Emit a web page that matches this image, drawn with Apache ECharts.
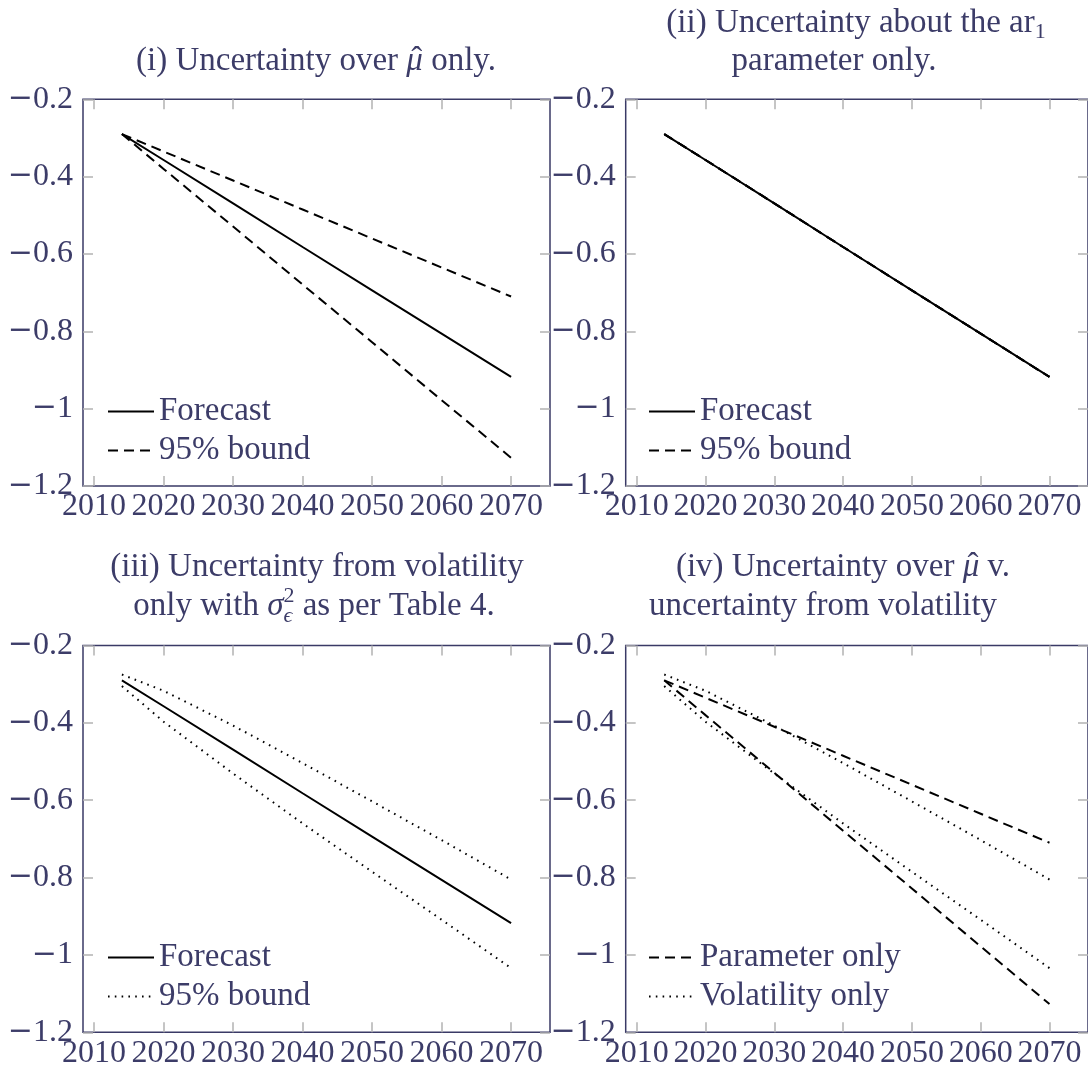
<!DOCTYPE html>
<html><head><meta charset="utf-8">
<script src="https://cdn.jsdelivr.net/npm/echarts@6/dist/echarts.min.js"></script>
<style>html,body{margin:0;padding:0;background:#fff;}#c{width:1088px;height:1071px;}</style>
</head><body><div id="c"></div>
<script>
// ---- data ----
const years      = [2014, 2020, 2030, 2040, 2050, 2060, 2070];
const forecast   = [-0.290, -0.357, -0.469, -0.582, -0.694, -0.806, -0.918];
const paramUpper = [-0.290, -0.335, -0.410, -0.485, -0.560, -0.635, -0.710];
const paramLower = [-0.290, -0.380, -0.529, -0.679, -0.828, -0.978, -1.127];
const volUpper   = [-0.275, -0.317, -0.407, -0.504, -0.603, -0.703, -0.805];
const volLower   = [-0.305, -0.397, -0.531, -0.660, -0.785, -0.909, -1.034];
const xTicks     = [2010, 2020, 2030, 2040, 2050, 2060, 2070];
const yTicks     = [-1.2, -1, -0.8, -0.6, -0.4, -0.2];

const FONT = '"Liberation Serif", "DejaVu Serif", serif';
const TXT = '#3c3c68';
const BORDER = '#3a3a66';
const TICK = '#b2b2b2';
const FS = 33;      // titles, legend
const FL = 32;      // tick labels

const grids = [
  {left: 83,    top: 99.3,  width: 467, height: 386.7},
  {left: 625.7, top: 99.3,  width: 467, height: 386.7},
  {left: 83,    top: 645.5, width: 467, height: 386.8},
  {left: 625.7, top: 645.5, width: 467, height: 386.8}
];

const pts = arr => years.map((y, k) => [y, arr[k]]);
const fmtY = v => { const r = Math.round(v * 10) / 10; return (r < 0 ? '{mn|\u2212}' : '') + String(Math.abs(r)); };

const xAxis = [], yAxis = [];
grids.forEach((g, i) => {
  const tickCommon = {inside: true, length: 10, customValues: xTicks, lineStyle: {color: TICK, width: 1.5}};
  xAxis.push({type: 'value', gridIndex: i, position: 'bottom', min: 2008.4, max: 2075.6,
    axisLine: {show: false}, splitLine: {show: false},
    axisTick: tickCommon,
    axisLabel: {customValues: xTicks, formatter: v => String(v), color: TXT, fontFamily: FONT, fontSize: FL, margin: 5}});
  xAxis.push({type: 'value', gridIndex: i, position: 'top', min: 2008.4, max: 2075.6,
    axisLine: {show: false}, splitLine: {show: false},
    axisTick: tickCommon, axisLabel: {show: false}});
  const yTick = {inside: true, length: 10, customValues: yTicks, lineStyle: {color: TICK, width: 1.5}};
  yAxis.push({type: 'value', gridIndex: i, position: 'left', min: -1.2, max: -0.2,
    axisLine: {show: false}, splitLine: {show: false},
    axisTick: yTick,
    axisLabel: {customValues: yTicks, formatter: fmtY, color: TXT, fontFamily: FONT, fontSize: FL, margin: 10,
      rich: {mn: {fontFamily: '"DejaVu Serif", serif', fontSize: 30, color: TXT}}}});
  yAxis.push({type: 'value', gridIndex: i, position: 'right', min: -1.2, max: -0.2,
    axisLine: {show: false}, splitLine: {show: false},
    axisTick: yTick, axisLabel: {show: false}});
});

const SOLID = {color: '#000', width: 2, type: 'solid'};
const DASH  = {color: '#000', width: 2, type: [10, 6]};
const DOT   = {color: '#000', width: 2, type: [1.6, 5.2]};

function line(name, i, arr, style, z) {
  return {type: 'line', name: name, xAxisIndex: 2 * i, yAxisIndex: 2 * i, data: pts(arr),
    symbol: 'none', showSymbol: false, lineStyle: style, itemStyle: {color: '#000'},
    silent: true, animation: false, z: z || 2};
}

const series = [
  line('Forecast#1', 0, forecast, SOLID, 3),
  line('95% bound#1', 0, paramUpper, DASH),
  line('95% bound#1', 0, paramLower, DASH),
  // panel ii: the bounds coincide with the forecast
  line('95% bound#2', 1, forecast, DASH),
  line('95% bound#2', 1, forecast, DASH),
  line('Forecast#2', 1, forecast, SOLID, 3),
  line('Forecast#3', 2, forecast, SOLID, 3),
  line('95% bound#3', 2, volUpper, DOT),
  line('95% bound#3', 2, volLower, DOT),
  line('Parameter only#4', 3, paramUpper, DASH),
  line('Parameter only#4', 3, paramLower, DASH),
  line('Volatility only#4', 3, volUpper, DOT),
  line('Volatility only#4', 3, volLower, DOT)
];

function legend(names, left, top) {
  return {data: names, left: left, top: top, orient: 'vertical', padding: 0,
    itemWidth: 46, itemHeight: 2, itemGap: 6, selectedMode: false,
    itemStyle: {opacity: 0},
    formatter: n => n.split('#')[0],
    textStyle: {color: TXT, fontFamily: FONT, fontSize: FS}};
}

// ---- titles: text runs laid out with measured widths ----
const ctx = document.createElement('canvas').getContext('2d');
const F = (size, it) => (it ? 'italic ' : '') + size + 'px ' + FONT;
const tw = (t, font) => { ctx.font = font; return ctx.measureText(t).width; };
function compose(parts, cx, cy) {
  const els = [];
  const widths = parts.map(p => {
    const s = p.size || FS;
    return p.stack ? Math.max.apply(null, p.stack.map(q => tw(q.t, F(s, q.it)))) : tw(p.t, F(s, p.it));
  });
  let x = cx - widths.reduce((a, b) => a + b, 0) / 2;
  parts.forEach((p, k) => {
    const s = p.size || FS;
    const items = p.stack || [{t: p.t, dy: p.dy || 0, it: p.it}];
    items.forEach(q => {
      els.push({type: 'text', x: x, y: cy + 0.3375 * (FS - s) + (q.dy || 0), silent: true,
        style: {text: q.t, font: F(s, q.it), fill: TXT, align: 'left', verticalAlign: 'middle'}});
    });
    if (p.hat) {
      els.push({type: 'text', x: x + widths[k] / 2 + 2, y: cy, silent: true,
        style: {text: '\u02c6', font: F(s, false), fill: TXT, align: 'center', verticalAlign: 'middle'}});
    }
    x += widths[k];
  });
  return els;
}

const graphics = [].concat(
  compose([{t: '(i) Uncertainty over '}, {t: '\u03bc', it: true, hat: true}, {t: ' only.'}], 316, 61),
  compose([{t: '(ii) Uncertainty about the ar'}, {t: '1', size: 22, dy: 6}], 856, 23),
  compose([{t: 'parameter only.'}], 834, 61),
  compose([{t: '(iii) Uncertainty from volatility'}], 317, 567),
  compose([{t: 'only with '}, {t: '\u03c3', it: true},
           {stack: [{t: '2', dy: -13}, {t: '\u03f5', dy: 7, it: true}], size: 22},
           {t: ' as per Table 4.'}], 314, 606),
  compose([{t: '(iv) Uncertainty over '}, {t: '\u03bc', it: true, hat: true}, {t: ' v.'}], 843, 567),
  compose([{t: 'uncertainty from volatility'}], 823, 606)
);

const chart = echarts.init(document.getElementById('c'), null, {renderer: 'canvas'});
chart.setOption({
  backgroundColor: '#fff',
  animation: false,
  grid: grids.map(g => Object.assign({show: true, borderColor: BORDER, borderWidth: 1.5, backgroundColor: 'transparent', containLabel: false}, g)),
  xAxis: xAxis,
  yAxis: yAxis,
  legend: [
    legend(['Forecast#1', '95% bound#1'], 107, 395),
    legend(['Forecast#2', '95% bound#2'], 648, 395),
    legend(['Forecast#3', '95% bound#3'], 107, 941),
    legend(['Parameter only#4', 'Volatility only#4'], 648, 941)
  ],
  series: series,
  graphic: graphics
});
</script></body></html>
